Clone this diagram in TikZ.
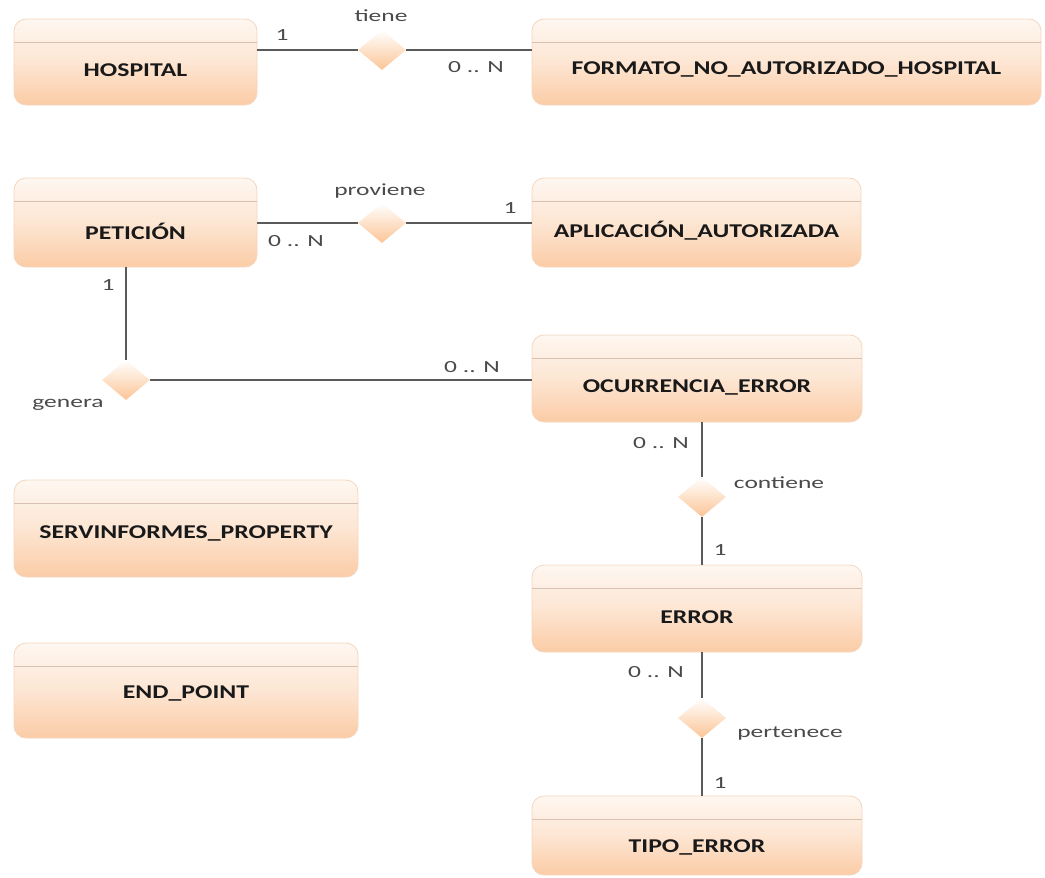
\documentclass[tikz,border=0pt]{standalone}
\usepackage{fontspec}
\setmainfont{Carlito}
\usetikzlibrary{shapes.geometric,calc}

\definecolor{peachlo}{HTML}{FBCCA6}
\definecolor{peachhi}{HTML}{FEF7F1}
\definecolor{peachedge}{HTML}{F4D6BE}
\definecolor{hdrline}{HTML}{D9C2B3}
\definecolor{linkgray}{HTML}{5A5A5A}
\definecolor{lblgray}{HTML}{4A4A4A}

\newcommand{\boxtext}[1]{\scalebox{1.32}[1]{\bfseries #1}}
\newcommand{\reltext}[1]{\scalebox{1.5}[1]{#1}}

\tikzset{
  entitybox/.style={rectangle, rounded corners=12pt, draw=peachedge, line width=0.8pt,
    top color=peachhi, bottom color=peachlo, middle color=peachhi!60!peachlo,
    inner sep=0pt},
  entityname/.style={font=\fontsize{19.5}{21}\selectfont, text=black!90, inner sep=0pt},
  headerline/.style={draw=hdrline, line width=0.9pt},
  relation/.style={diamond, inner sep=0pt, minimum width=48pt, minimum height=40pt,
    top color=white, bottom color=peachlo!90!orange, draw=none},
  link/.style={draw=linkgray, line width=1.2pt},
  card/.style={font=\fontsize{17}{19}\selectfont, text=lblgray, inner sep=0pt},
}

% \entity{name}{center x}{center y}{width}{height}{text y}{text}
\newcommand{\entity}[7]{%
  \node[entitybox, minimum width=#4pt, minimum height=#5pt] (#1) at (#2,#3) {};
  \draw[headerline] ($(#1.north west)+(0.6,24)$) -- ($(#1.north east)+(-0.6,24)$);
  \node[entityname] (#1-name) at (#2,#6) {\boxtext{#7}};
}

\begin{document}
\begin{tikzpicture}[x=1pt,y=-1pt]
\useasboundingbox (0,0) rectangle (1045,878);

% entities
\entity{hosp}{135.5}{62}{243}{86}{70}{HOSPITAL}
\entity{fmt}{786.5}{62}{509}{86}{69}{FORMATO\_NO\_AUTORIZADO\_HOSPITAL}
\entity{pet}{135.5}{222.5}{243}{89}{231}{PETICIÓN}
\entity{app}{696.5}{222.5}{329}{89}{231}{APLICACIÓN\_AUTORIZADA}
\entity{occ}{697}{378.5}{330}{87}{387}{OCURRENCIA\_ERROR}
\entity{err}{697}{608.5}{330}{87}{617}{ERROR}
\entity{tipo}{697}{835.5}{330}{79}{847}{TIPO\_ERROR}
\entity{serv}{186}{528.5}{344}{97}{533}{SERVINFORMES\_PROPERTY}
\entity{endp}{186}{690.5}{344}{95}{693}{END\_POINT}

% relationships
\node[relation] (tiene) at (382,50) {};
\node[relation] (proviene) at (382,223) {};
\node[relation] (genera) at (126,380) {};
\node[relation] (contiene) at (702,497) {};
\node[relation] (pertenece) at (702,718) {};

% connectors
\draw[link] (tiene.west) -- (tiene.west -| hosp.east);
\draw[link] (tiene.east) -- (tiene.east -| fmt.west);
\draw[link] (proviene.west) -- (proviene.west -| pet.east);
\draw[link] (proviene.east) -- (proviene.east -| app.west);
\draw[link] (genera.north) -- (genera.north |- pet.south);
\draw[link] (genera.east) -- (genera.east -| occ.west);
\draw[link] (contiene.north) -- (contiene.north |- occ.south);
\draw[link] (contiene.south) -- (contiene.south |- err.north);
\draw[link] (pertenece.north) -- (pertenece.north |- err.south);
\draw[link] (pertenece.south) -- (pertenece.south |- tipo.north);

% relationship names
\node[card] (tiene-l) at (381,16) {\reltext{tiene}};
\node[card] (proviene-l) at (380,191) {\reltext{proviene}};
\node[card] (genera-l) at (68,405) {\reltext{genera}};
\node[card] (contiene-l) at (779,483) {\reltext{contiene}};
\node[card] (pertenece-l) at (790,733) {\reltext{pertenece}};

% cardinalities
\node[card] (c1) at (282,35) {\reltext{1}};
\node[card] (c2) at (476,67) {\reltext{0 .. N}};
\node[card] (c3) at (296,241) {\reltext{0 .. N}};
\node[card] (c4) at (510,208) {\reltext{1}};
\node[card] (c5) at (108,285) {\reltext{1}};
\node[card] (c6) at (472,367) {\reltext{0 .. N}};
\node[card] (c7) at (661,443) {\reltext{0 .. N}};
\node[card] (c8) at (720,550) {\reltext{1}};
\node[card] (c9) at (656,672) {\reltext{0 .. N}};
\node[card] (c10) at (720,783) {\reltext{1}};
\end{tikzpicture}
\end{document}
